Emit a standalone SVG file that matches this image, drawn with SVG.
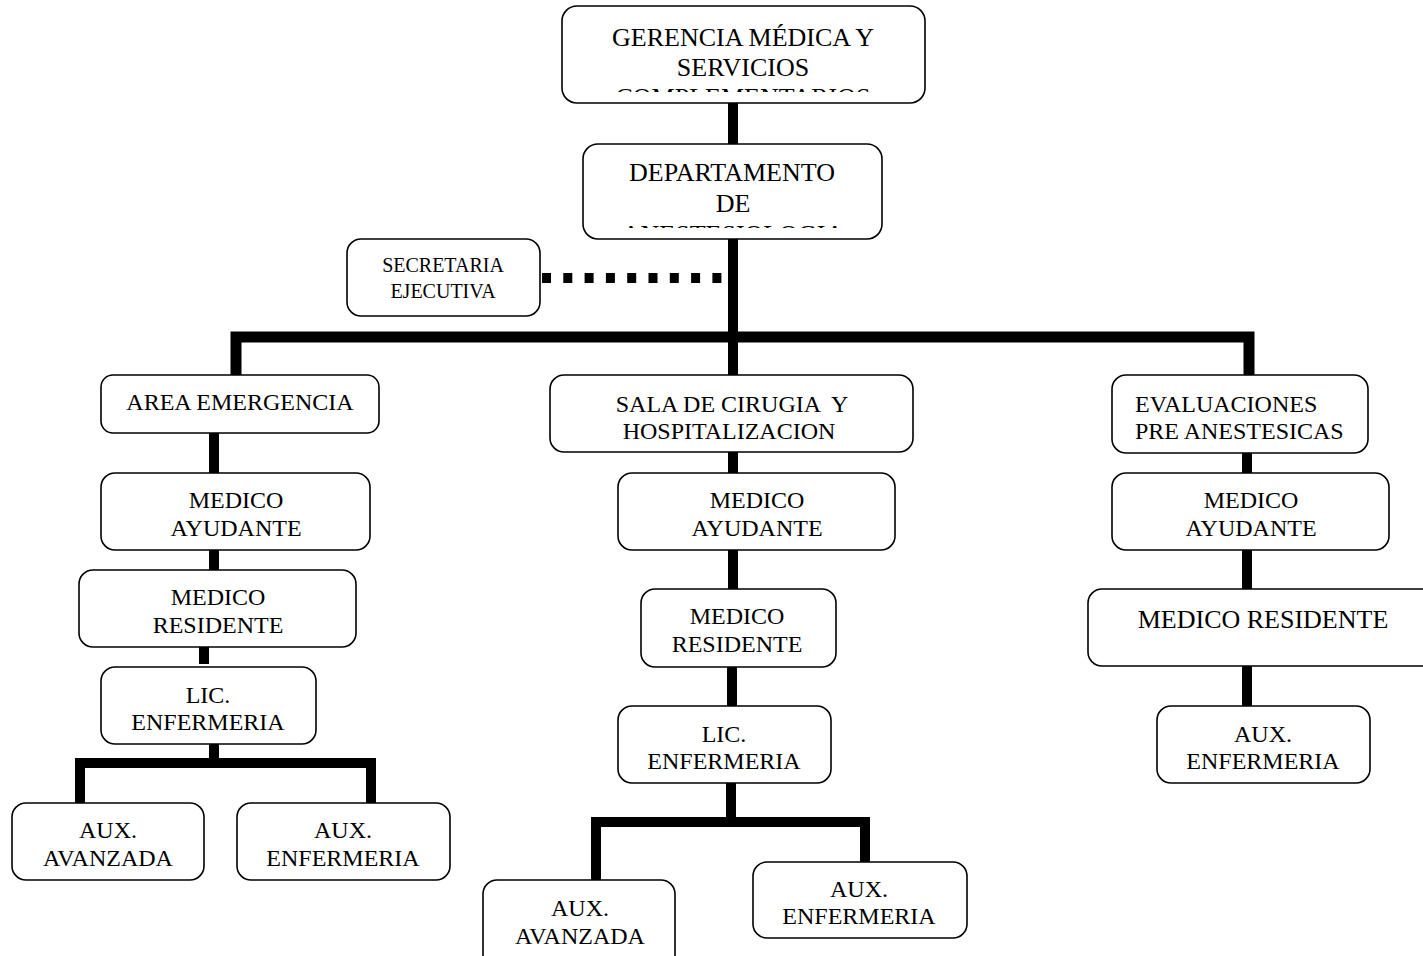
<svg xmlns="http://www.w3.org/2000/svg" width="1423" height="956" viewBox="0 0 1423 956">
<style>
.box{fill:#fff;stroke:#000;stroke-width:1.6}
.t{font-family:"Liberation Serif","Times New Roman",serif;font-size:24px;fill:#000;text-anchor:middle}
.big{font-size:26px}
.sm{font-size:20px}
.ln{stroke:#000;stroke-width:10;fill:none;stroke-linecap:butt}
.dot{stroke:#000;stroke-width:10;fill:none;stroke-dasharray:9 12.3}
</style>
<defs>
<clipPath id="c1"><rect x="562" y="6" width="363" height="86"/></clipPath>
<clipPath id="c2"><rect x="583" y="144" width="299" height="84"/></clipPath>
</defs>
<rect width="1423" height="956" fill="#fff"/>
<g id="connectors">
<line class="ln" x1="733" y1="100" x2="733" y2="146"/>
<line class="ln" x1="733" y1="236" x2="733" y2="342"/>
<line class="dot" x1="542" y1="278" x2="723" y2="278"/>
<polyline class="ln" points="236,376 236,337 1249,337 1249,376" style="stroke-width:11"/>
<line class="ln" x1="733" y1="337" x2="733" y2="377"/>
<line class="ln" x1="214" y1="432" x2="214" y2="474"/>
<line class="ln" x1="214" y1="549" x2="214" y2="571"/>
<line class="ln" x1="204" y1="640" x2="204" y2="664"/>
<line class="ln" x1="214" y1="744" x2="214" y2="764"/>
<polyline class="ln" points="80,804 80,763 371,763 371,804"/>
<line class="ln" x1="733" y1="451" x2="733" y2="474"/>
<line class="ln" x1="733" y1="544" x2="733" y2="590"/>
<line class="ln" x1="732" y1="666" x2="732" y2="707"/>
<line class="ln" x1="731" y1="782" x2="731" y2="823"/>
<polyline class="ln" points="596,881 596,822 865,822 865,863"/>
<line class="ln" x1="1247" y1="452" x2="1247" y2="474"/>
<line class="ln" x1="1247" y1="549" x2="1247" y2="590"/>
<line class="ln" x1="1247" y1="665" x2="1247" y2="707"/>
</g>
<g id="gerencia">
<rect class="box" x="562" y="6" width="363" height="97" rx="15"/>
<text class="t big" x="743" y="46">GERENCIA MÉDICA Y</text>
<text class="t big" x="743" y="76">SERVICIOS</text>
<text class="t big" x="743" y="106" clip-path="url(#c1)">COMPLEMENTARIOS</text>
</g>
<g id="departamento">
<rect class="box" x="583" y="144" width="299" height="95" rx="15"/>
<text class="t big" x="732" y="181">DEPARTAMENTO</text>
<text class="t big" x="733" y="212">DE</text>
<text class="t big" x="733" y="243" clip-path="url(#c2)">ANESTESIOLOGIA</text>
</g>
<g id="secretaria">
<rect class="box" x="347" y="239" width="193" height="77" rx="14"/>
<text class="t sm" x="443" y="272">SECRETARIA</text>
<text class="t sm" x="443" y="298">EJECUTIVA</text>
</g>
<g id="area-emergencia">
<rect class="box" x="101" y="375" width="278" height="58" rx="12"/>
<text class="t" x="240" y="410">AREA EMERGENCIA</text>
</g>
<g id="medico-ayudante-1">
<rect class="box" x="101" y="473" width="269" height="77" rx="14"/>
<text class="t" x="236" y="508">MEDICO</text>
<text class="t" x="236" y="536">AYUDANTE</text>
</g>
<g id="medico-residente-1">
<rect class="box" x="79" y="570" width="277" height="77" rx="14"/>
<text class="t" x="218" y="605">MEDICO</text>
<text class="t" x="218" y="633">RESIDENTE</text>
</g>
<g id="lic-enfermeria-1">
<rect class="box" x="101" y="667" width="215" height="77" rx="14"/>
<text class="t" x="208" y="703">LIC.</text>
<text class="t" x="208" y="730">ENFERMERIA</text>
</g>
<g id="aux-avanzada-1">
<rect class="box" x="12" y="803" width="192" height="77" rx="14"/>
<text class="t" x="108" y="838">AUX.</text>
<text class="t" x="108" y="866">AVANZADA</text>
</g>
<g id="aux-enfermeria-1">
<rect class="box" x="237" y="803" width="213" height="77" rx="14"/>
<text class="t" x="343" y="838">AUX.</text>
<text class="t" x="343" y="866">ENFERMERIA</text>
</g>
<g id="sala-cirugia">
<rect class="box" x="550" y="375" width="363" height="77" rx="14"/>
<text class="t" x="732" y="412" xml:space="preserve">SALA DE CIRUGIA  Y</text>
<text class="t" x="729" y="439">HOSPITALIZACION</text>
</g>
<g id="medico-ayudante-2">
<rect class="box" x="618" y="473" width="277" height="77" rx="14"/>
<text class="t" x="757" y="508">MEDICO</text>
<text class="t" x="757" y="536">AYUDANTE</text>
</g>
<g id="medico-residente-2">
<rect class="box" x="641" y="589" width="195" height="78" rx="14"/>
<text class="t" x="737" y="624">MEDICO</text>
<text class="t" x="737" y="652">RESIDENTE</text>
</g>
<g id="lic-enfermeria-2">
<rect class="box" x="618" y="706" width="213" height="77" rx="14"/>
<text class="t" x="724" y="742">LIC.</text>
<text class="t" x="724" y="769">ENFERMERIA</text>
</g>
<g id="aux-avanzada-2">
<rect class="box" x="483" y="880" width="192" height="90" rx="14"/>
<text class="t" x="580" y="916">AUX.</text>
<text class="t" x="580" y="944">AVANZADA</text>
</g>
<g id="aux-enfermeria-2">
<rect class="box" x="753" y="862" width="214" height="76" rx="14"/>
<text class="t" x="859" y="897">AUX.</text>
<text class="t" x="859" y="924">ENFERMERIA</text>
</g>
<g id="evaluaciones">
<rect class="box" x="1112" y="375" width="256" height="78" rx="14"/>
<text class="t" x="1135" y="412" style="text-anchor:start">EVALUACIONES</text>
<text class="t" x="1135" y="439" style="text-anchor:start">PRE ANESTESICAS</text>
</g>
<g id="medico-ayudante-3">
<rect class="box" x="1112" y="473" width="277" height="77" rx="14"/>
<text class="t" x="1251" y="508">MEDICO</text>
<text class="t" x="1251" y="536">AYUDANTE</text>
</g>
<g id="medico-residente-3">
<rect class="box" x="1088" y="589" width="360" height="77" rx="14"/>
<text class="t big" x="1263" y="628">MEDICO RESIDENTE</text>
</g>
<g id="aux-enfermeria-3">
<rect class="box" x="1157" y="706" width="213" height="77" rx="14"/>
<text class="t" x="1263" y="742">AUX.</text>
<text class="t" x="1263" y="769">ENFERMERIA</text>
</g>
</svg>
